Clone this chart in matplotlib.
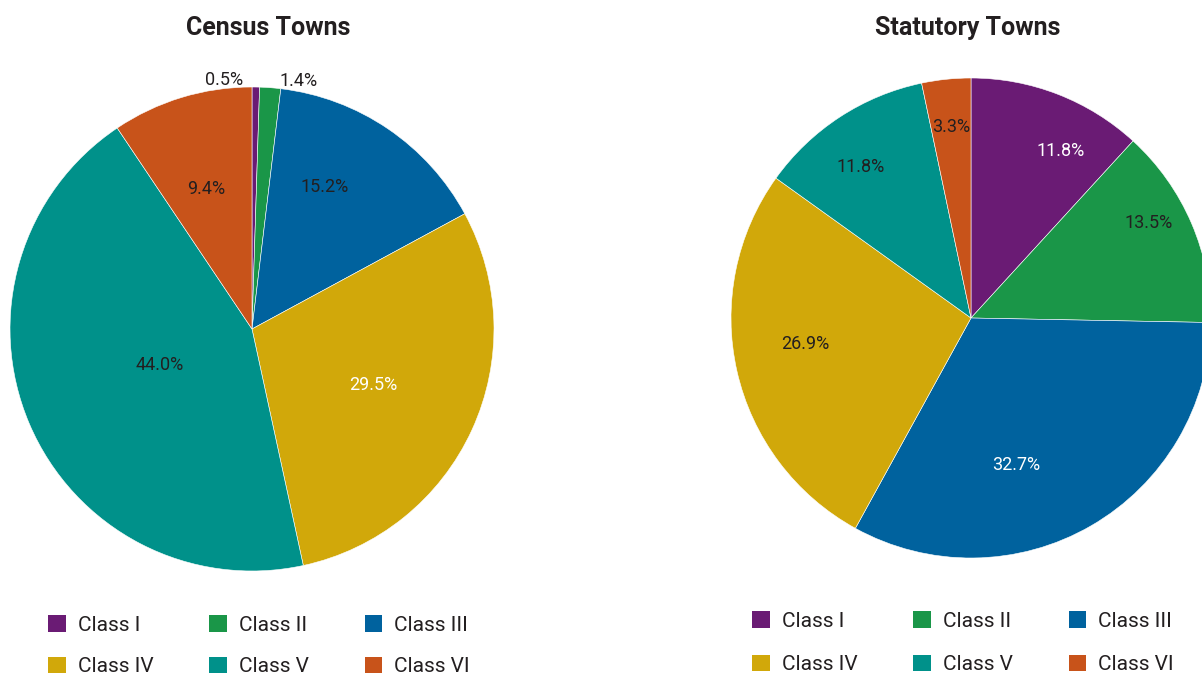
import numpy as np
import matplotlib.pyplot as plt
from matplotlib.patches import Patch

# Datos
clases = ["Class I", "Class II", "Class III", "Class IV", "Class V", "Class VI"]
census = [0.5, 1.4, 15.2, 29.5, 44.0, 9.4]
statutory = [11.8, 13.5, 32.7, 26.9, 11.8, 3.3]
colores = ["#6a1b74", "#1a9648", "#00629e", "#d1a80a", "#00918a", "#c8531a"]

oscuro = "#231f20"
fuente = "Roboto"

fig = plt.figure(figsize=(12.02, 6.77), dpi=100)
W, H = 1202, 677


def eje_pie(cx, cy, r):
    return fig.add_axes([(cx - r) / W, (H - cy - r) / H, 2 * r / W, 2 * r / H])


def dibujar(ax, valores, dist, giro, col_txt, alin):
    wedges, _ = ax.pie(valores, colors=colores, startangle=90, counterclock=False,
                       wedgeprops=dict(edgecolor="white", linewidth=0.4))
    ax.set_xlim(-1, 1)
    ax.set_ylim(-1, 1)
    ax.set_aspect("auto")
    ax.axis("off")
    for w, v, d, g, c, a in zip(wedges, valores, dist, giro, col_txt, alin):
        ang = np.deg2rad((w.theta1 + w.theta2) / 2 + g)
        ax.text(d * np.cos(ang), d * np.sin(ang), f"{v:.1f}%", ha=a, va="center",
                color=c, fontsize=13, family=fuente, clip_on=False)
    return wedges


# Census Towns
ax1 = eje_pie(252, 329, 242)
dibujar(ax1, census, [1.03, 1.03, 0.66, 0.55, 0.41, 0.61], [3, -2, 7, 0, -2, 1],
        [oscuro, oscuro, oscuro, "white", oscuro, oscuro],
        ["right", "left", "center", "center", "center", "center"])
fig.text(268 / W, 1 - 28 / H, "Census Towns", ha="center", va="center", fontsize=18,
         fontweight="bold", color=oscuro, family=fuente)

# Statutory Towns
ax2 = eje_pie(971, 318, 240)
dibujar(ax2, statutory, [0.79, 0.84, 0.64, 0.70, 0.78, 0.80], [-7, 5, -13, -4, 3, 0],
        ["white", oscuro, "white", oscuro, oscuro, oscuro], ["center"] * 6)
fig.text(968 / W, 1 - 28 / H, "Statutory Towns", ha="center", va="center", fontsize=18,
         fontweight="bold", color=oscuro, family=fuente)

# Leyendas (orden por filas)
orden = [0, 3, 1, 4, 2, 5]
handles = [Patch(facecolor=colores[i], edgecolor="none") for i in orden]
etiquetas = [clases[i] for i in orden]
for x0, y0, esp in ((40, 607, 1.05), (744, 603, 1.15)):
    fig.legend(handles, etiquetas, ncol=3, loc="upper left",
               bbox_to_anchor=(x0 / W, 1 - y0 / H), frameon=False,
               prop=dict(family=fuente, size=15), labelcolor=oscuro,
               handlelength=0.85, handleheight=0.85, handletextpad=0.55,
               columnspacing=2.7, labelspacing=esp, borderaxespad=0)

fig.savefig("out.png", dpi=100)
